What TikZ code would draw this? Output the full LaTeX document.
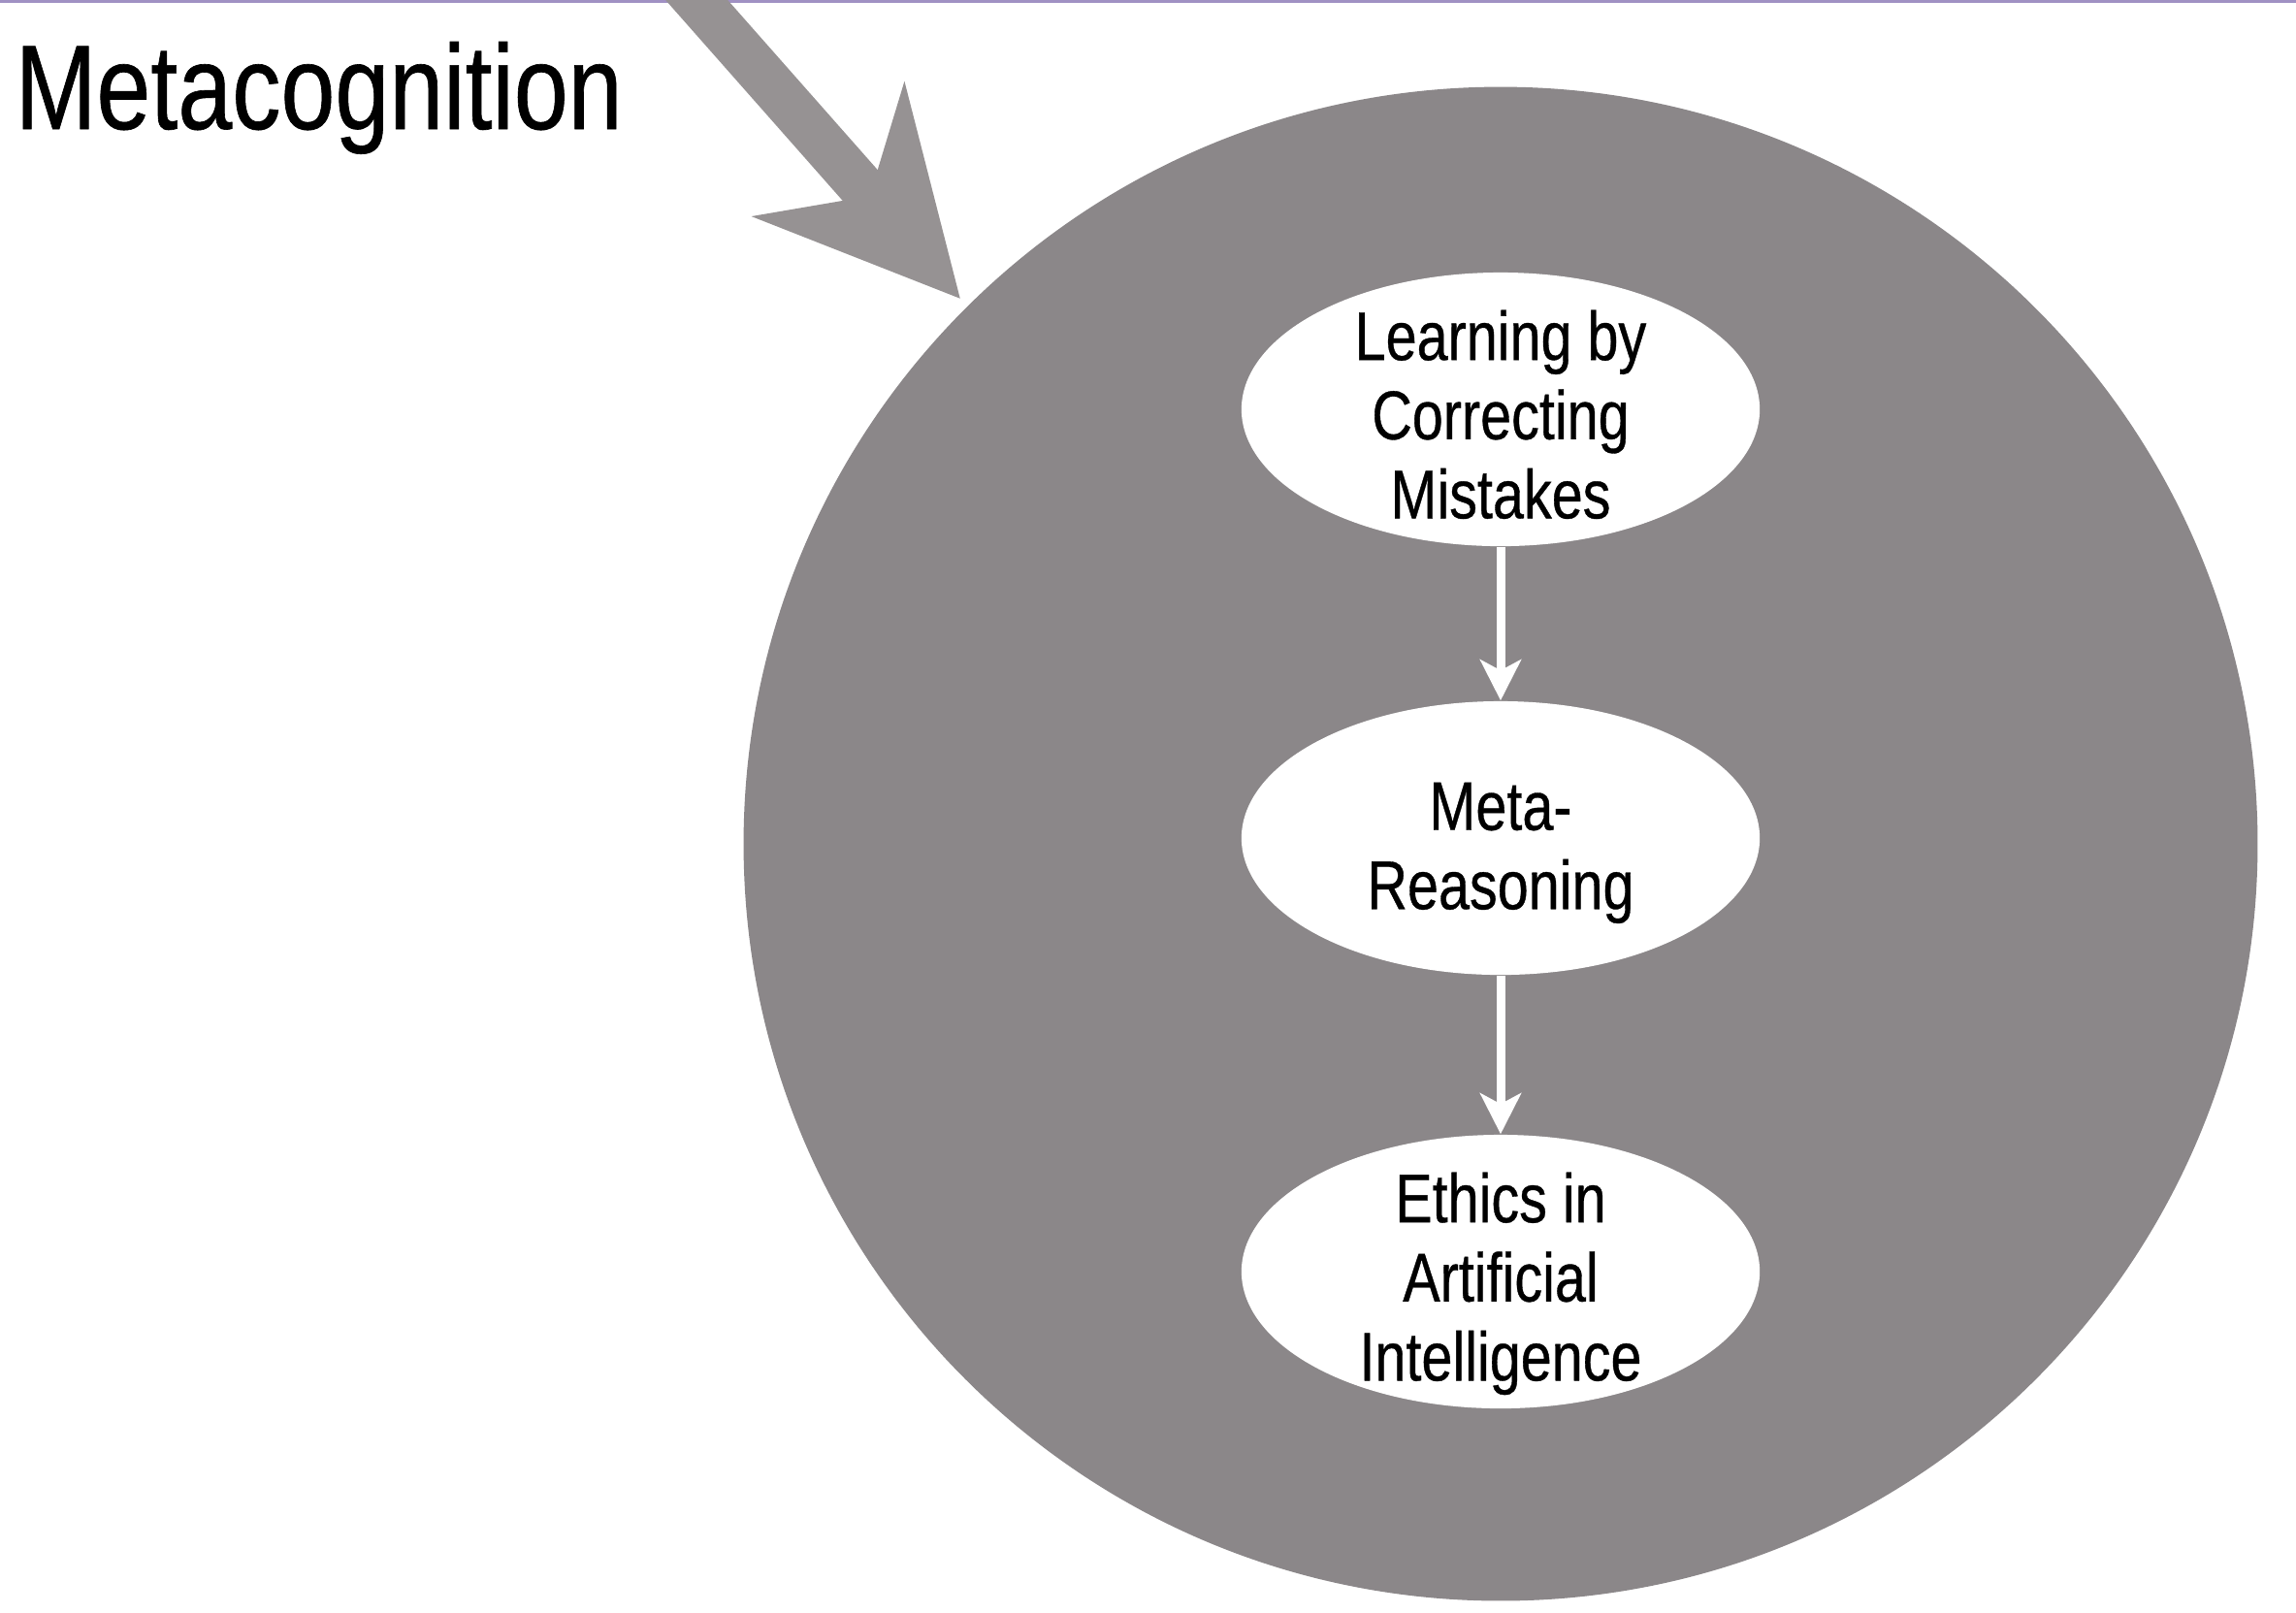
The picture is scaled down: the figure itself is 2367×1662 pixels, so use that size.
\documentclass[tikz,border=0pt]{standalone}
\usepackage{fontspec}
\setmainfont{Liberation Sans}[FakeStretch=0.81, FakeBold=0.5]
\usetikzlibrary{arrows.meta,shapes.geometric}
\definecolor{discgray}{RGB}{139,135,137}
\definecolor{arrowgray}{RGB}{150,146,147}
\definecolor{toplinecol}{RGB}{160,145,195}
\tikzset{
  disc/.style={circle, fill=discgray, minimum size=15.6cm, inner sep=0pt},
  idea/.style={ellipse, fill=white, minimum width=5.34cm, minimum height=2.82cm, inner sep=0pt},
  ideatext/.style={align=center, inner sep=0pt, text depth=0pt, yshift=-0.05cm,
    font=\fontsize{20.2pt}{23.2pt}\selectfont},
  flow/.style={draw=white, line width=0.09cm, -{Stealth[length=0.42cm, width=0.42cm, inset=0.11cm]}},
  bigarrow/.style={draw=arrowgray, line width=0.48cm, -{Stealth[length=2.03cm, width=2.05cm, inset=0.62cm]}},
  titletext/.style={inner sep=0pt, anchor=base west, font=\fontsize{35.3pt}{40pt}\selectfont}
}
\begin{document}
\begin{tikzpicture}[x=0.01cm, y=-0.01cm]
\useasboundingbox (0,0) rectangle (2367,1662);
\clip (0,0) rectangle (2367,1662);
\fill[white] (0,0) rectangle (2367,1662);
\draw[toplinecol, line width=0.03cm] (0,1) -- (2367,1);

\node[disc] (disc) at (1547,870) {};

\node[idea] (learn) at (1547,422) {};
\node[idea] (meta) at (1547,864) {};
\node[idea] (ethics) at (1547,1311) {};

\node[ideatext] (learnlabel) at (learn.center) {Learning by\\Correcting\\Mistakes};
\node[ideatext, yshift=-0.03cm] (metalabel) at (meta.center) {Meta-\\Reasoning};
\node[ideatext] (ethicslabel) at (ethics.center) {Ethics in\\Artificial\\Intelligence};

\draw[flow] (learn) -- (meta);
\draw[flow] (meta) -- (ethics);

\coordinate (arrowstart) at (674,-50);
\coordinate (arrowtip) at (990,308);
\draw[bigarrow] (arrowstart) -- (arrowtip);

\node[titletext] (title) at (15,133) {Metacognition};
\end{tikzpicture}
\end{document}
